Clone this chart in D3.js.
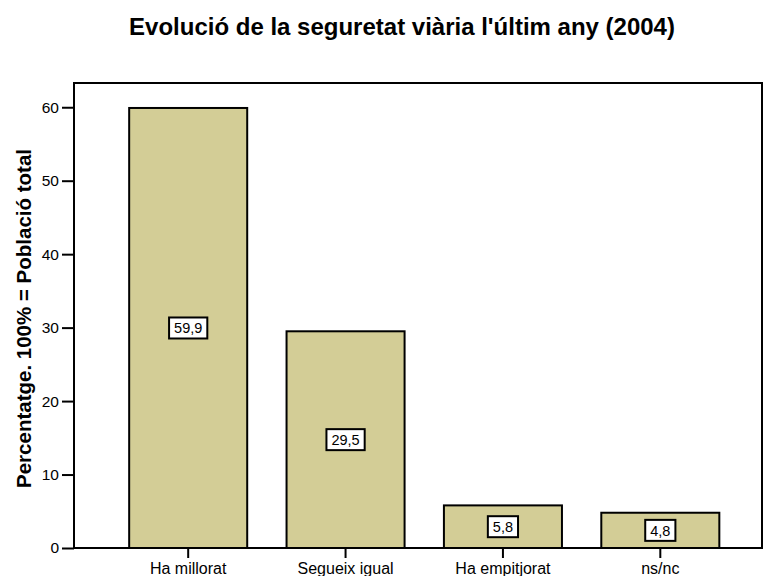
<!DOCTYPE html>
<html><head><meta charset="utf-8">
<script src="https://cdn.jsdelivr.net/npm/d3@7"></script>
<style>body{margin:0;background:#fff}svg{display:block}text{font-family:"Liberation Sans",Arial,sans-serif}</style>
</head><body>
<script>
const categories = ["Ha millorat", "Segueix igual", "Ha empitjorat", "ns/nc"];
const values = [59.9, 29.5, 5.8, 4.8];
const valueLabels = ["59,9", "29,5", "5,8", "4,8"];
const yTicks = [0, 10, 20, 30, 40, 50, 60];

const W = 763, H = 576;
const frame = {left: 74, right: 762, top: 83, bottom: 548};
const svg = d3.select("body").append("svg").attr("width", W).attr("height", H);

const y = d3.scaleLinear().domain([0, 63.3]).range([frame.bottom, frame.top]);
const x = d3.scaleBand().domain(categories).range([109.5, 739]).paddingInner(0.25).paddingOuter(0.125);

svg.append("text").attr("x", 402).attr("y", 35).attr("text-anchor", "middle")
  .style("font-size", "24px").style("font-weight", "bold")
  .text("Evolució de la seguretat viària l'últim any (2004)");

// bars
svg.selectAll("rect.bar").data(values).enter().append("rect")
  .attr("x", (d, i) => x(categories[i]))
  .attr("width", x.bandwidth())
  .attr("y", d => y(d))
  .attr("height", d => y(0) - y(d))
  .attr("fill", "#d3cd96").attr("stroke", "#000").attr("stroke-width", 2);

// frame
svg.append("rect").attr("x", frame.left).attr("y", frame.top)
  .attr("width", frame.right - frame.left).attr("height", frame.bottom - frame.top)
  .attr("fill", "none").attr("stroke", "#000").attr("stroke-width", 2);

// y axis
const yAxis = svg.append("g").attr("transform", `translate(${frame.left},0)`)
  .call(d3.axisLeft(y).tickValues(yTicks).tickSize(12).tickPadding(3));
yAxis.select(".domain").remove();
yAxis.selectAll("line").attr("stroke", "#000").attr("stroke-width", 2);
yAxis.selectAll("text").style("font-size", "15.5px").style("font-family", '"Liberation Sans",Arial,sans-serif').attr("fill", "#000");

// x axis
const xAxis = svg.append("g").attr("transform", `translate(0,${frame.bottom})`)
  .call(d3.axisBottom(x).tickSize(10).tickPadding(5));
xAxis.select(".domain").remove();
xAxis.selectAll("line").attr("stroke", "#000").attr("stroke-width", 2);
xAxis.selectAll("text").style("font-size", "16px").style("font-family", '"Liberation Sans",Arial,sans-serif').attr("fill", "#000");

// y title
svg.append("text").attr("transform", `translate(31,${(frame.top + frame.bottom) / 2 + 3}) rotate(-90)`)
  .attr("text-anchor", "middle").style("font-size", "20.5px").style("font-weight", "bold")
  .text("Percentatge. 100% = Població total");

// value labels
const lbl = svg.selectAll("g.vl").data(values).enter().append("g")
  .attr("transform", (d, i) => `translate(${x(categories[i]) + x.bandwidth() / 2},${y(d / 2)})`);
const lblText = lbl.append("text").attr("text-anchor", "middle").attr("dy", "0.36em")
  .style("font-size", "14.5px").text((d, i) => valueLabels[i]);
lbl.insert("rect", "text").each(function () {
  const b = this.parentNode.querySelector("text").getBBox();
  d3.select(this).attr("x", b.x - 5).attr("y", -10.5).attr("width", b.width + 10).attr("height", 21);
}).attr("fill", "#fff").attr("stroke", "#000").attr("stroke-width", 2);
</script>
</body></html>
